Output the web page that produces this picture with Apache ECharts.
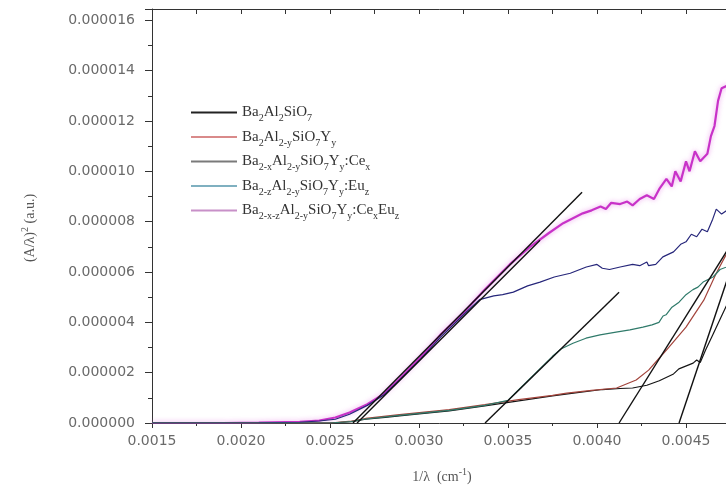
<!DOCTYPE html>
<html><head><meta charset="utf-8">
<script src="https://cdn.jsdelivr.net/npm/echarts@6/dist/echarts.min.js"></script>
<style>html,body{margin:0;padding:0;background:#fff}#c{width:726px;height:490px}</style>
</head><body><div id="c"></div>
<script>
// ---- data (y values in units of 1e-6) ----
const Y_UNIT = 1e-6;
const xTickLabelsFmt = 4;   // decimals of x tick labels
const yTickLabelsFmt = 6;   // decimals of y tick labels

const blackX = [0.0015,0.0019,0.0023,0.0025,0.00262,0.0027,0.00281,0.00289,0.0030,0.00317,0.00337,0.00356,0.00375,0.0039,0.00403,0.00413,0.0042,0.00428,0.00435,0.00443,0.00446,0.00454,0.00456,0.00458,0.00461,0.00465,0.00469,0.00473,0.00476];
const blackY = [0,0,0,0,0.05,0.15,0.22,0.28,0.36,0.48,0.68,0.88,1.08,1.22,1.33,1.37,1.39,1.5,1.68,1.95,2.15,2.38,2.5,2.4,2.9,3.5,4.1,4.7,5.2];

const redX = [0.0015,0.0019,0.0023,0.0025,0.00262,0.0027,0.00289,0.00317,0.00337,0.00356,0.00375,0.00383,0.00397,0.00411,0.00422,0.00429,0.00439,0.0045,0.0046,0.00467,0.00473,0.00476];
const redY = [0,0,0,0,0.08,0.18,0.33,0.53,0.73,0.93,1.1,1.19,1.3,1.39,1.71,2.1,2.9,3.81,4.88,5.95,6.75,7.0];

const ceX = [0.0015,0.0017,0.0019,0.0021,0.00233,0.00244,0.00253,0.00261,0.00271,0.0028,0.00289,0.00301,0.00312,0.00325,0.00334,0.00342,0.00347,0.00353,0.00361,0.00368,0.00376,0.00385,0.00394,0.0040,0.00403,0.00407,0.00413,0.0042,0.00424,0.00428,0.00429,0.00433,0.00437,0.00443,0.00447,0.0045,0.00453,0.00456,0.00459,0.00462,0.00465,0.00467,0.0047,0.00473,0.00476];
const ceY = [0,0,0,0.01,0.03,0.08,0.15,0.35,0.7,1.1,1.7,2.55,3.4,4.3,4.9,5.05,5.1,5.2,5.45,5.6,5.8,5.95,6.2,6.3,6.15,6.1,6.2,6.3,6.25,6.4,6.25,6.3,6.6,6.8,7.1,7.2,7.5,7.4,7.7,7.6,8.1,8.5,8.3,8.45,8.5];

const euX = [0.0015,0.0019,0.0023,0.0025,0.00262,0.0027,0.00289,0.00317,0.00337,0.0035,0.00355,0.0036,0.00365,0.0037,0.00375,0.0038,0.003865,0.003938,0.004017,0.004107,0.004185,0.004258,0.004309,0.004348,0.004371,0.004388,0.004421,0.004461,0.0045,0.004539,0.004567,0.004596,0.004624,0.004652,0.004691,0.004725,0.00476];
const euY = [0,0,0,0,0.06,0.16,0.3,0.5,0.7,0.9,1.25,1.6,1.95,2.3,2.65,2.95,3.17,3.37,3.5,3.61,3.7,3.81,3.9,4.0,4.25,4.3,4.6,4.8,5.1,5.3,5.4,5.6,5.7,5.8,6.1,6.19,6.3];

const ceEuX = [0.0015,0.0017,0.0019,0.0021,0.00233,0.00244,0.00253,0.00261,0.00271,0.0028,0.00289,0.00301,0.00312,0.00325,0.00337,0.00351,0.00362,0.00373,0.00381,0.00392,0.00397,0.00402,0.00405,0.00408,0.00413,0.00417,0.0042,0.00424,0.00428,0.00432,0.00435,0.00439,0.00442,0.00444,0.00447,0.0045,0.00452,0.00455,0.00458,0.00462,0.00464,0.00466,0.00468,0.0047,0.00473,0.00476];
const ceEuY = [0,0,0,0.02,0.05,0.1,0.22,0.42,0.75,1.15,1.75,2.62,3.5,4.38,5.3,6.3,6.98,7.55,7.94,8.33,8.45,8.6,8.5,8.75,8.7,8.8,8.65,8.9,9.05,8.9,9.3,9.7,9.4,10.0,9.6,10.4,10.0,10.8,10.4,10.7,11.4,11.8,12.8,13.3,13.4,13.3];

// tangent (linear fit) lines: [x0,x1] and [y0,y1]
const tangentX = [[0.002629,0.003916],[0.002652,0.00368],[0.003371,0.004124],[0.004124,0.0048],[0.004461,0.0048]];
const tangentY = [[0,9.17],[0,7.26],[0,5.2],[0,7.63],[0,7.14]];

const seriesNames = ['Ba2Al2SiO7','Ba2Al2-ySiO7Yy','Ba2-xAl2-ySiO7Yy:Cex','Ba2-zAl2-ySiO7Yy:Euz','Ba2-x-zAl2-ySiO7Yy:CexEuz'];
const legendRich = [
  '{m|Ba}{s|2}{m|Al}{s|2}{m|SiO}{s|7}',
  '{m|Ba}{s|2}{m|Al}{s|2-y}{m|SiO}{s|7}{m|Y}{s|y}',
  '{m|Ba}{s|2-x}{m|Al}{s|2-y}{m|SiO}{s|7}{m|Y}{s|y}{m|:Ce}{s|x}',
  '{m|Ba}{s|2-z}{m|Al}{s|2-y}{m|SiO}{s|7}{m|Y}{s|y}{m|:Eu}{s|z}',
  '{m|Ba}{s|2-x-z}{m|Al}{s|2-y}{m|SiO}{s|7}{m|Y}{s|y}{m|:Ce}{s|x}{m|Eu}{s|z}'
];

const pairs = (xs, ys) => xs.map((x, i) => [x, ys[i] * Y_UNIT]);

const lineColors = ['#151515','#a3443c','#26267a','#2f7a6a','#c832c8'];
const legendColors = ['#222222','#d98a8a','#7a7a7a','#7fb0c0','#c890c8'];
const dataSets = [[blackX,blackY],[redX,redY],[ceX,ceY],[euX,euY],[ceEuX,ceEuY]];

const series = [];
// magenta first (underneath), with glow
const order = [4,0,1,2,3];
order.forEach(i => {
  series.push({
    name: seriesNames[i], type: 'line', symbol: 'none', showSymbol: false,
    data: pairs(dataSets[i][0], dataSets[i][1]),
    lineStyle: i === 4
      ? {color: lineColors[i], width: 2.2, shadowColor: 'rgba(230,130,230,0.8)', shadowBlur: 5}
      : {color: lineColors[i], width: 1.2},
    itemStyle: {color: lineColors[i]},
    z: 2, silent: true
  });
});
tangentX.forEach((tx, k) => {
  series.push({
    name: 'fit' + k, type: 'line', symbol: 'none', showSymbol: false,
    data: pairs(tx, tangentY[k]),
    lineStyle: {color: '#111', width: 1.4}, itemStyle: {color: '#111'}, z: 3, silent: true
  });
});

const tickFont = {fontFamily: 'DejaVu Sans', fontSize: 14, color: '#6a6a6a'};
const axisCol = '#333';

const chart = echarts.init(document.getElementById('c'), null, {renderer: 'canvas'});
chart.setOption({
  animation: false,
  backgroundColor: '#fff',
  grid: {left: 152, top: 9, right: -49, bottom: 67, containLabel: false, outerBoundsMode: 'none'},
  legend: {
    orient: 'vertical', left: 186, top: 100, itemGap: 6,
    itemWidth: 46, itemHeight: 2, icon: 'rect', selectedMode: false,
    data: seriesNames.map((n, i) => ({name: n, itemStyle: {color: legendColors[i]}})),
    formatter: name => legendRich[seriesNames.indexOf(name)],
    textStyle: {
      rich: {
        m: {fontFamily: 'Liberation Serif', fontSize: 15, color: '#333', lineHeight: 22},
        s: {fontFamily: 'Liberation Serif', fontSize: 10, color: '#333', lineHeight: 10, verticalAlign: 'bottom'}
      }
    }
  },
  xAxis: [{
    type: 'value', min: 0.0015, max: 0.005, interval: 0.0005, position: 'bottom',
    axisLine: {show: true, onZero: false, lineStyle: {color: axisCol, width: 1}},
    axisTick: {show: true, inside: false, length: 5, lineStyle: {color: axisCol}},
    minorTick: {show: true, splitNumber: 2, length: 3, lineStyle: {color: axisCol}},
    splitLine: {show: false},
    axisLabel: Object.assign({margin: 11, formatter: v => v.toFixed(xTickLabelsFmt), showMaxLabel: false}, tickFont)
  }, {
    type: 'value', min: 0.0015, max: 0.005, interval: 0.00025, position: 'top',
    axisLine: {show: true, onZero: false, lineStyle: {color: axisCol, width: 1}},
    axisTick: {show: true, inside: true, length: 5, lineStyle: {color: axisCol}},
    axisLabel: {show: false}, splitLine: {show: false}
  }],
  yAxis: {
    type: 'value', min: 0, max: 16.45e-6, interval: 2e-6,
    axisLine: {show: true, onZero: false, lineStyle: {color: axisCol, width: 1}},
    axisTick: {show: true, inside: false, length: 7, lineStyle: {color: axisCol}},
    minorTick: {show: true, splitNumber: 2, length: 4, lineStyle: {color: axisCol}},
    splitLine: {show: false},
    axisLabel: Object.assign({margin: 17, formatter: v => {
      const k = v / 2e-6;
      return Math.abs(k - Math.round(k)) < 1e-6 ? v.toFixed(yTickLabelsFmt) : '';
    }}, tickFont)
  },
  graphic: [{
    type: 'text', x: 30, y: 228, rotation: Math.PI / 2, silent: true,
    style: {
      text: '{m|(A/λ)}{p|2}{m| (a.u.)}', align: 'center', verticalAlign: 'middle',
      rich: {
        m: {fontFamily: 'Liberation Serif', fontSize: 14, fill: '#555', lineHeight: 20},
        p: {fontFamily: 'Liberation Serif', fontSize: 10, fill: '#555', lineHeight: 10, verticalAlign: 'top'}
      }
    }
  }, {
    type: 'text', x: 442, y: 477, silent: true,
    style: {
      text: '{m|1/λ  (cm}{p|-1}{m|)}', align: 'center', verticalAlign: 'middle',
      rich: {
        m: {fontFamily: 'Liberation Serif', fontSize: 14, fill: '#555', lineHeight: 20},
        p: {fontFamily: 'Liberation Serif', fontSize: 10, fill: '#555', lineHeight: 10, verticalAlign: 'top'}
      }
    }
  }],
  series: series
});
</script></body></html>
